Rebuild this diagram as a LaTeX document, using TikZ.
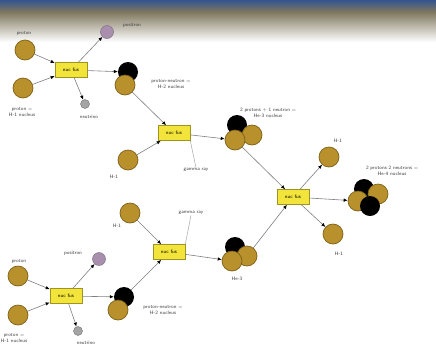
\documentclass[tikz,border=0pt]{standalone}
\usetikzlibrary{arrows.meta}
\definecolor{gold}{HTML}{B8912C}
\definecolor{goldrim}{HTML}{7E6118}
\definecolor{fusc}{HTML}{F2E43A}
\definecolor{fusrim}{HTML}{A09420}
\definecolor{posc}{HTML}{A88FAE}
\definecolor{nuec}{HTML}{A4A4A4}
\definecolor{band}{HTML}{34548F}
\definecolor{bandlow}{HTML}{80785E}
\tikzset{
  nuc/.style={circle, draw=goldrim, fill=gold, line width=0.7pt, minimum size=20pt, inner sep=0pt},
  neu/.style={circle, fill=black, minimum size=20pt, inner sep=0pt},
  posi/.style={circle, draw=posc!70!black, fill=posc, minimum size=13pt, inner sep=0pt},
  nue/.style={circle, draw=nuec!70!black, fill=nuec, minimum size=9pt, inner sep=0pt},
  fus/.style={rectangle, draw=fusrim, fill=fusc, line width=0.6pt, minimum width=32pt,
    minimum height=15pt, inner sep=1pt, font=\sffamily\fontsize{5}{6}\selectfont},
  lbl/.style={font=\sffamily\fontsize{5}{6}\selectfont, align=center, text=black!75, inner sep=0.5pt},
  link/.style={draw=black!50, line width=0.6pt, -{Latex[length=4pt,width=3.5pt,black]}},
  gray line/.style={draw=black!35, line width=0.5pt}
}
\begin{document}
\begin{tikzpicture}[x=1pt, y=-1pt]
     \useasboundingbox (0,0) rectangle (436,354);
     \fill[white] (0,0) rectangle (436,354);
     \shade[top color=band, bottom color=bandlow] (0,0) rectangle (436,12);
     \shade[top color=bandlow, bottom color=white] (0,12) rectangle (436,42);

     % upper chain, first fusion
     \node[nuc] (P1) at (25, 50) {};
     \node[nuc] (P2) at (23, 88) {};
     \node[fus] (F1) at (71, 70) {nuc fus};
     \node[posi] (E1) at (107, 32) {};
     \node[nue] (N1) at (85, 104) {};
     \node[neu] (D1b) at (128, 72) {};
     \node[nuc] (D1) at (125, 85) {};
     \node[lbl] at (24, 34) {proton};
     \node[lbl] at (22, 112) {proton =\\H-1 nucleus};
     \node[lbl] at (132, 25) {positron};
     \node[lbl] at (89, 117) {neutrino};
     \node[lbl] at (171, 84) {proton-neutron =\\H-2 nucleus};
     \draw [link] (P1) -- (F1);
     \draw [link] (P2) -- (F1);
     \draw [link] (F1) -- (E1);
     \draw [link] (F1) -- (N1);
     \draw [link] (F1) -- (D1b);

     % upper chain, second fusion
     \node[fus] (F2) at (174, 133) {nuc fus};
     \node[nuc] (H1) at (128, 160) {};
     \node[lbl] at (114, 177) {H-1};
     \node[lbl] (G1) at (196, 170) {gamma ray};
     \node[neu] (T1b) at (237, 125) {};
     \node[nuc] (T1c) at (252, 135) {};
     \node[nuc] (T1) at (235, 140) {};
     \node[lbl] at (268, 113) {2 protons + 1 neutron =\\He-3 nucleus};
     \draw [link] (D1) -- (F2);
     \draw [link] (H1) -- (F2);
     \draw [gray line] (F2.south east) -- (G1.north);
     \draw [link] (F2) -- (T1);

     % lower chain, first fusion
     \node[nuc] (P3) at (18, 276) {};
     \node[nuc] (P4) at (18, 315) {};
     \node[fus] (F4) at (66, 296) {nuc fus};
     \node[posi] (E2) at (99, 259) {};
     \node[nue] (N2) at (78, 331) {};
     \node[neu] (D2b) at (124, 297) {};
     \node[nuc] (D2) at (118, 310) {};
     \node[lbl] at (19, 262) {proton};
     \node[lbl] at (14, 338) {proton =\\H-1 nucleus};
     \node[lbl] at (73, 253) {positron};
     \node[lbl] at (86, 343) {neutrino};
     \node[lbl] at (163, 310) {proton-neutron =\\H-2 nucleus};
     \draw [link] (P3) -- (F4);
     \draw [link] (P4) -- (F4);
     \draw [link] (F4) -- (E2);
     \draw [link] (F4) -- (N2);
     \draw [link] (F4) -- (D2b);

     % lower chain, second fusion
     \node[fus] (F5) at (169, 252) {nuc fus};
     \node[nuc] (H2) at (130, 213) {};
     \node[lbl] at (117, 226) {H-1};
     \node[lbl] (G2) at (191, 213) {gamma ray};
     \node[neu] (T2b) at (235, 247) {};
     \node[nuc] (T2c) at (247, 256) {};
     \node[nuc] (T2) at (232, 261) {};
     \node[lbl] at (237, 279) {He-3};
     \draw [link] (D2b) -- (F5);
     \draw [link] (H2) -- (F5);
     \draw [gray line] (F5.north east) -- (G2.south);
     \draw [link] (F5) -- (T2);

     % last fusion
     \node[fus] (F3) at (293, 197) {nuc fus};
     \node[nuc] (H3) at (329, 157) {};
     \node[nuc] (H4) at (333, 234) {};
     \node[lbl] at (338, 141) {H-1};
     \node[lbl] at (339, 254) {H-1};
     \node[neu] (Q1) at (364, 189) {};
     \node[nuc] (Q2) at (378, 194) {};
     \node[nuc] (Q3) at (358, 201) {};
     \node[neu] (Q4) at (370, 206) {};
     \node[lbl] at (392, 171) {2 protons 2 neutrons =\\He-4 nucleus};
     \draw [link] (T1) -- (F3);
     \draw [link] (T2c) -- (F3);
     \draw [link] (F3) -- (H3);
     \draw [link] (F3) -- (H4);
     \draw [link] (F3) -- (Q3);
    \end{tikzpicture}
\end{document}
